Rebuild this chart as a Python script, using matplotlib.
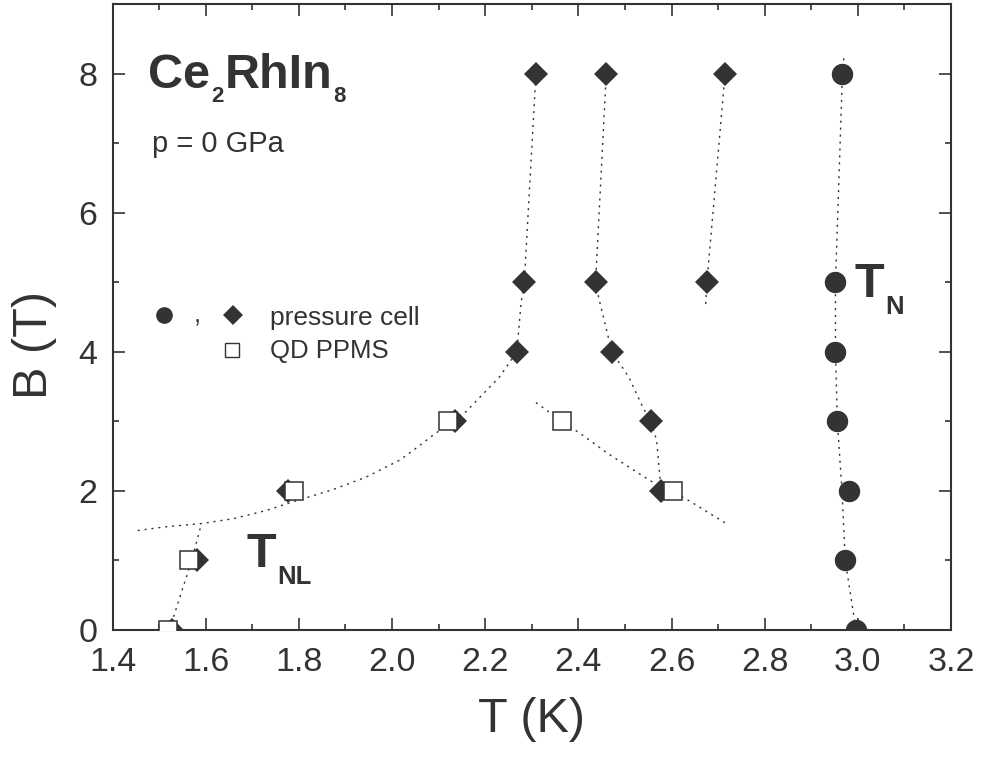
import matplotlib
matplotlib.use("Agg")
import matplotlib.pyplot as plt
from matplotlib.transforms import IdentityTransform
from matplotlib.ticker import MultipleLocator, FormatStrFormatter

plt.rcParams['font.family'] = ['Liberation Sans', 'DejaVu Sans']

C = '#333333'

# ---- data ----
# T_N (circles, pressure cell)
circle_T = [2.996, 2.973, 2.980, 2.956, 2.952, 2.952, 2.967]
circle_B = [0, 1, 2, 3, 4, 5, 8]

# diamonds (pressure cell)
diamond_T = [1.527, 1.581, 1.776, 2.577, 2.136, 2.555, 2.268, 2.472,
             2.284, 2.437, 2.676, 2.309, 2.460, 2.715]
diamond_B = [0, 1, 2, 2, 3, 3, 4, 4, 5, 5, 5, 8, 8, 8]

# squares (QD PPMS)
square_T = [1.520, 1.565, 1.790, 2.121, 2.365, 2.604]
square_B = [0, 1, 2, 3, 3, 2]

# dotted guide lines
lineA_T = [1.522, 1.570, 1.591]
lineA_B = [0.0, 1.0, 1.53]

lineB_T = [1.454, 1.516, 1.591, 1.659, 1.731, 1.781, 1.874, 1.945, 2.016,
           2.045, 2.088, 2.159, 2.231, 2.268, 2.277, 2.284, 2.309]
lineB_B = [1.43, 1.485, 1.53, 1.60, 1.72, 1.83, 2.02, 2.20, 2.44,
           2.58, 2.80, 3.14, 3.64, 4.00, 4.70, 5.00, 8.00]

lineC_T = [2.460, 2.437, 2.445, 2.472, 2.508, 2.538, 2.555, 2.568, 2.577]
lineC_B = [8.00, 5.00, 4.74, 4.00, 3.64, 3.21, 3.00, 2.73, 2.05]

lineD_T = [2.309, 2.365, 2.403, 2.463, 2.523, 2.575, 2.604, 2.635, 2.715]
lineD_B = [3.27, 3.00, 2.83, 2.54, 2.28, 2.06, 1.98, 1.87, 1.54]

lineE_T = [2.715, 2.676, 2.673]
lineE_B = [8.00, 5.00, 4.63]

lineF_T = [2.970, 2.967, 2.952, 2.952, 2.956, 2.966, 2.973, 2.996]
lineF_B = [8.22, 8.00, 5.00, 4.00, 3.00, 2.00, 1.00, 0.00]

xticks = [1.4, 1.6, 1.8, 2.0, 2.2, 2.4, 2.6, 2.8, 3.0, 3.2]
yticks = [0, 2, 4, 6, 8]

# ---- figure ----
fig = plt.figure(figsize=(9.94, 7.57), dpi=100)
ax = fig.add_axes([112.5/994, 1-630/757, 838.5/994, 626/757])

dot = dict(color=C, lw=1.0, linestyle=(0, (1.5, 3.5)), zorder=1)
for xs, ys in [(lineA_T, lineA_B), (lineB_T, lineB_B), (lineC_T, lineC_B),
               (lineD_T, lineD_B), (lineE_T, lineE_B), (lineF_T, lineF_B)]:
    ax.plot(xs, ys, **dot)

ax.plot(circle_T, circle_B, 'o', ms=14.4, color=C, mec=C, zorder=3)
ax.plot(diamond_T, diamond_B, 'D', ms=12.5, color=C, mec=C, mew=0, zorder=3)
ax.plot(square_T, square_B, 's', ms=12.3, mfc='white', mec=C, mew=1.1, zorder=4)

ax.set_xlim(1.4, 3.2)
ax.set_ylim(0, 9)
ax.xaxis.set_minor_locator(MultipleLocator(0.1))
ax.yaxis.set_minor_locator(MultipleLocator(1))
ax.set_xticks(xticks)
ax.set_yticks(yticks)
ax.xaxis.set_major_formatter(FormatStrFormatter('%.1f'))

for s in ax.spines.values():
    s.set_linewidth(1.5)
    s.set_color(C)
ax.tick_params(which='both', direction='in', top=True, right=True, color=C, width=1.2)
ax.tick_params(which='major', length=8.6)
ax.tick_params(which='minor', length=4.3)
ax.tick_params(axis='x', which='major', labelsize=24.5, pad=12, labelcolor=C)
ax.tick_params(axis='y', which='major', labelsize=24.5, pad=11, labelcolor=C)

ax.set_xlabel('T (K)', fontsize=35, color=C, labelpad=14)
ax.set_ylabel('B (T)', fontsize=35, color=C)
ax.yaxis.set_label_coords(-0.066, 0.455)

# ---- legend drawn by hand ----
ax.plot([0.0619], [0.503], 'o', ms=11, color=C, transform=ax.transAxes, clip_on=False)
ax.plot([0.1432], [0.503], 'D', ms=10.3, color=C, mew=0, transform=ax.transAxes, clip_on=False)
ax.plot([0.1421], [0.447], 's', ms=10, mfc='white', mec=C, mew=1.0,
        transform=ax.transAxes, clip_on=False)
ax.text(0.1016, 0.492, ',', fontsize=18.5, color=C, transform=ax.transAxes,
        ha='center', va='baseline')
ax.text(0.1877, 0.487, 'pressure cell', fontsize=19, color=C, transform=ax.transAxes,
        ha='left', va='baseline')
ax.text(0.1877, 0.4345, 'QD PPMS', fontsize=18.5, color=C, transform=ax.transAxes,
        ha='left', va='baseline')

ax.text(0.0468, 0.764, 'p = 0 GPa', fontsize=21, color=C, transform=ax.transAxes,
        ha='left', va='baseline')

renderer = fig.canvas.get_renderer()


def chain(x_ax, y_ax, parts):
    """parts: (string, fontsize, drop_px, gap_px)"""
    x0, y0 = ax.transAxes.transform((x_ax, y_ax))
    cur = x0
    for s, size, drop, gap in parts:
        t = fig.text(cur + gap, y0 - drop, s, transform=IdentityTransform(),
                     fontsize=size, fontweight='bold', color=C,
                     ha='left', va='baseline')
        cur = t.get_window_extent(renderer).x1 + gap


chain(0.0423, 0.8666, [('Ce', 35, 0, 0), ('2', 16, 14, 1),
                       ('RhIn', 35, 0, 0), ('8', 16, 14, 1)])
chain(0.1604, 0.1006, [('T', 35, 0, 0), ('NL', 18.5, 17, 1)])
chain(0.8855, 0.532, [('T', 35, 0, 0), ('N', 18.5, 17, 1)])

fig.savefig('out.png', dpi=100)
